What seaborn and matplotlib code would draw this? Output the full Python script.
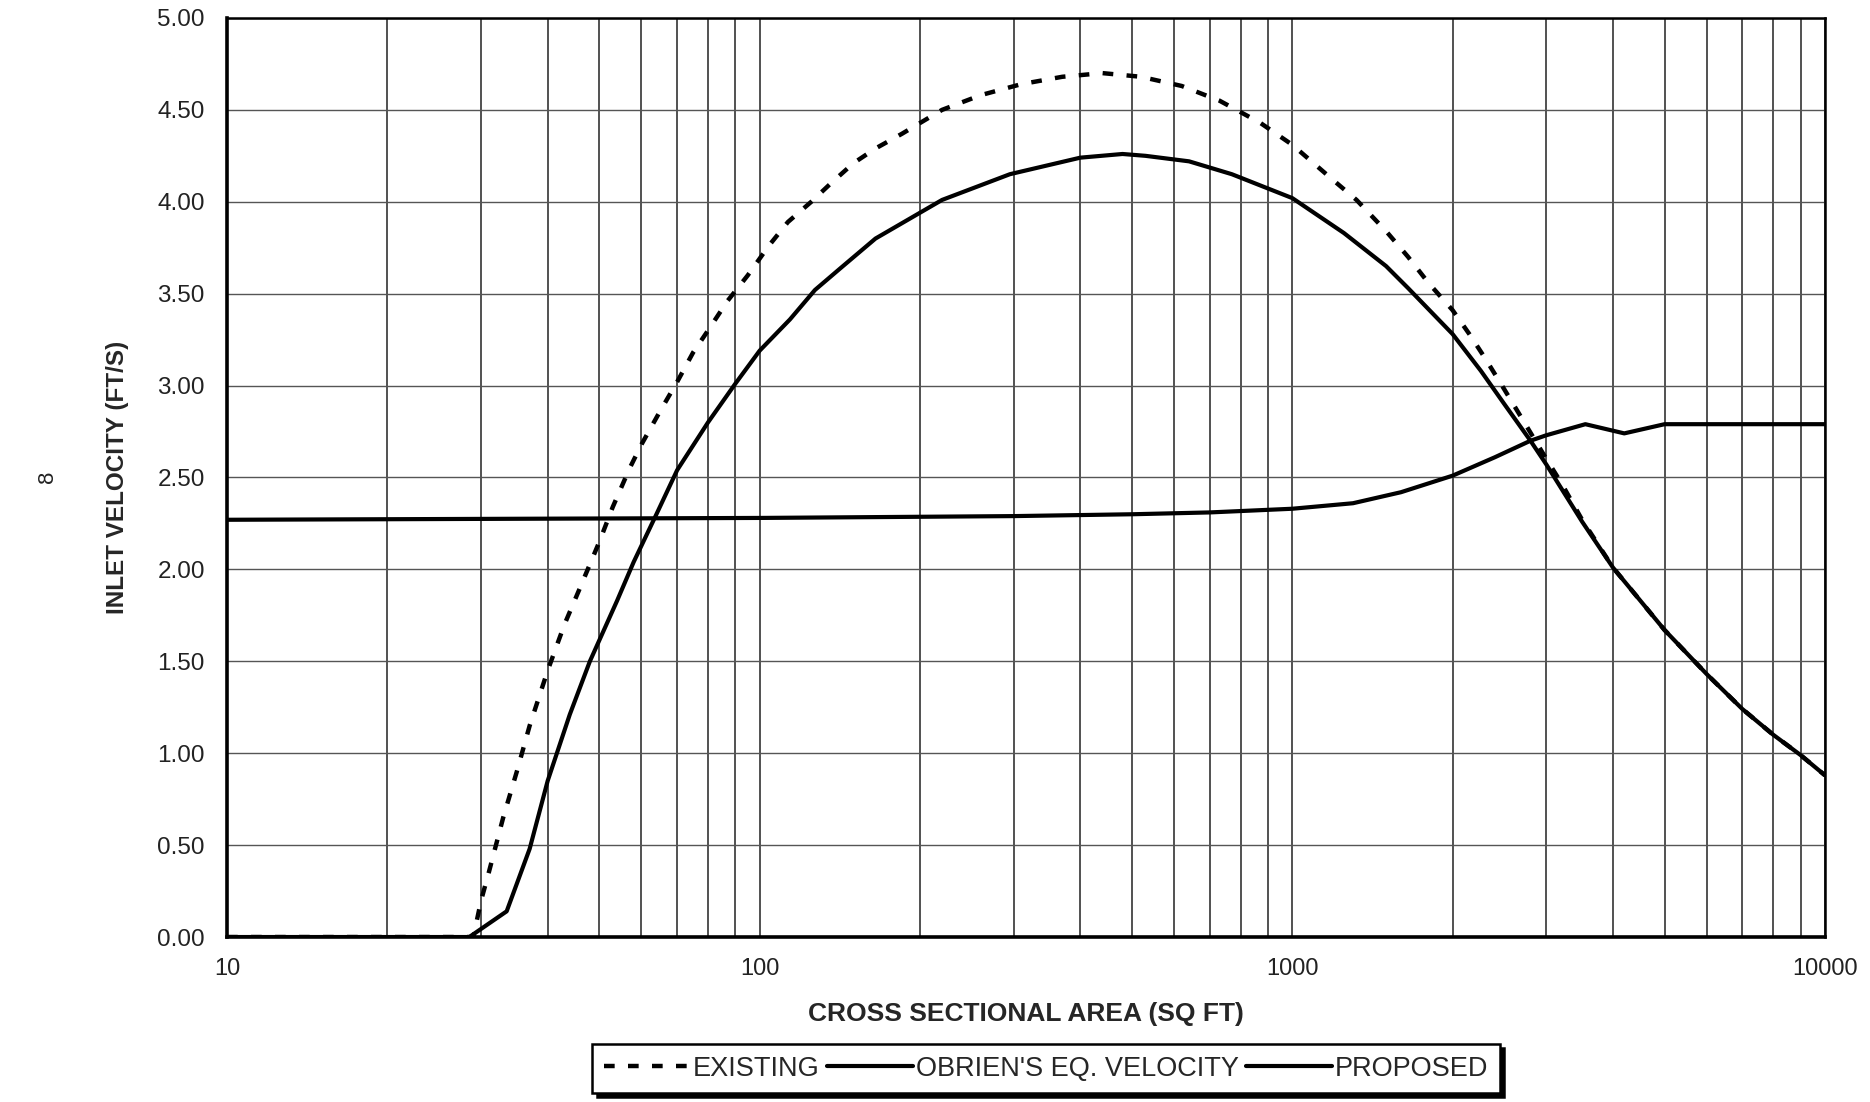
import matplotlib
matplotlib.use("Agg")
import matplotlib.pyplot as plt
import matplotlib.ticker as mticker
import numpy as np
import pandas as pd
import seaborn as sns

# ---------------- data ----------------
existing_area = [10, 29, 30, 31, 33, 35, 37, 40, 43, 46, 50, 53, 57, 60, 65, 70, 75, 80, 87,
                 95, 104, 113, 125, 136, 150, 165, 185, 220, 260, 310, 370, 440, 520, 620,
                 730, 870, 1000, 1180, 1320, 1500, 1650, 1800, 2000, 2150, 2300, 2500, 2700,
                 3000, 3200, 3500, 4000, 5000, 6000, 7000, 8000, 9000, 10000]
existing_vel = [0.0, 0.0, 0.2, 0.35, 0.65, 0.9, 1.15, 1.45, 1.70, 1.90, 2.15, 2.34, 2.55, 2.68,
                2.86, 3.02, 3.18, 3.30, 3.46, 3.60, 3.76, 3.89, 4.00, 4.10, 4.21, 4.29, 4.37,
                4.50, 4.58, 4.64, 4.68, 4.70, 4.68, 4.63, 4.55, 4.43, 4.31, 4.13, 4.01, 3.84,
                3.70, 3.56, 3.41, 3.28, 3.15, 2.98, 2.82, 2.60, 2.47, 2.27, 2.01, 1.67, 1.43,
                1.24, 1.10, 0.99, 0.88]

obrien_area = [10, 100, 300, 500, 700, 1000, 1300, 1600, 2000, 2400, 2800, 3000, 3550,
               4200, 5000, 10000]
obrien_vel = [2.27, 2.28, 2.29, 2.30, 2.31, 2.33, 2.36, 2.42, 2.51, 2.61, 2.70, 2.73, 2.79,
              2.74, 2.79, 2.79]

proposed_area = [10, 28.5, 33.5, 37, 40, 44, 48, 54, 58, 64, 70, 80, 90, 100, 114, 127, 142,
                 165, 220, 295, 400, 480, 530, 640, 770, 1000, 1250, 1500, 1650, 2000, 2260,
                 2500, 2800, 3000, 3500, 4000, 5000, 6000, 7000, 8000, 9000, 10000]
proposed_vel = [0.0, 0.0, 0.14, 0.48, 0.85, 1.21, 1.50, 1.83, 2.04, 2.30, 2.54, 2.80, 3.01,
                3.19, 3.36, 3.52, 3.64, 3.80, 4.01, 4.15, 4.24, 4.26, 4.25, 4.22, 4.15, 4.02,
                3.83, 3.65, 3.53, 3.28, 3.08, 2.90, 2.70, 2.57, 2.26, 2.01, 1.67, 1.43, 1.24,
                1.10, 0.99, 0.88]

x_tick_values = [10, 100, 1000, 10000]
x_tick_labels = ["10", "100", "1000", "10000"]
y_tick_values = [0, 0.5, 1, 1.5, 2, 2.5, 3, 3.5, 4, 4.5, 5]

legend_labels = ["EXISTING", "OBRIEN'S EQ. VELOCITY", "PROPOSED"]

# ---------------- style ----------------
sns.set_style("white")
plt.rcParams["font.family"] = ["Liberation Sans", "DejaVu Sans"]

fig = plt.figure(figsize=(18.7, 11.02), dpi=100)
ax = fig.add_axes([0.1214, 0.1497, 0.9759 - 0.1214, 0.9837 - 0.1497])

df_e = pd.DataFrame({"area": existing_area, "vel": existing_vel})
df_o = pd.DataFrame({"area": obrien_area, "vel": obrien_vel})
df_p = pd.DataFrame({"area": proposed_area, "vel": proposed_vel})

sns.lineplot(data=df_e, x="area", y="vel", ax=ax, color="black", lw=3.2,
             linestyle=(0, (2.4, 3.0)), estimator=None, label=legend_labels[0], zorder=4)
sns.lineplot(data=df_o, x="area", y="vel", ax=ax, color="black", lw=3.0,
             estimator=None, label=legend_labels[1], zorder=5)
sns.lineplot(data=df_p, x="area", y="vel", ax=ax, color="black", lw=3.0,
             estimator=None, label=legend_labels[2], zorder=5)

ax.set_xscale("log")
ax.set_xlim(10, 10000)
ax.set_ylim(0, 5)

ax.xaxis.set_major_locator(mticker.FixedLocator(x_tick_values))
ax.xaxis.set_major_formatter(mticker.FixedFormatter(x_tick_labels))
ax.xaxis.set_minor_locator(mticker.LogLocator(base=10, subs=np.arange(2, 10)))
ax.xaxis.set_minor_formatter(mticker.NullFormatter())
ax.yaxis.set_major_locator(mticker.FixedLocator(y_tick_values))
ax.yaxis.set_major_formatter(mticker.FormatStrFormatter("%.2f"))

ax.grid(True, which="major", axis="x", color="#222222", lw=1.1)
ax.grid(True, which="minor", axis="x", color="#222222", lw=1.1)
ax.grid(True, which="major", axis="y", color="#555555", lw=1.0)
ax.set_axisbelow(True)

ax.tick_params(axis="both", which="both", length=0)
ax.tick_params(axis="y", labelsize=17.5, pad=16, colors="#222222")
ax.tick_params(axis="x", labelsize=17, pad=15, colors="#222222")

for side in ["left", "bottom"]:
    ax.spines[side].set_linewidth(2.6)
for side in ["top", "right"]:
    ax.spines[side].set_linewidth(1.8)
for s in ax.spines.values():
    s.set_color("black")

ax.set_xlabel("CROSS SECTIONAL AREA (SQ FT)", fontsize=19, fontweight="bold", labelpad=16)
ax.set_ylabel("INLET VELOCITY (FT/S)", fontsize=17.5, fontweight="bold", labelpad=20)

handles, labels = ax.get_legend_handles_labels()
leg = ax.legend(handles, labels, loc="center", bbox_to_anchor=(0.5594, 0.0303),
                bbox_transform=fig.transFigure, ncol=3, frameon=True,
                prop={"size": 19.5},
                handlelength=3.2, handletextpad=0.1, columnspacing=0.25,
                borderpad=0.42, borderaxespad=0, fancybox=False,
                shadow={"color": "black", "alpha": 1.0, "ox": 3, "oy": -3})
leg.get_frame().set_edgecolor("black")
leg.get_frame().set_linewidth(1.8)

fig.text(48 / 1870, 1 - 477 / 1102, "8", rotation=90, fontsize=16, ha="center", va="center",
         color="#222222")

fig.savefig("out.png", dpi=100, facecolor="white")
